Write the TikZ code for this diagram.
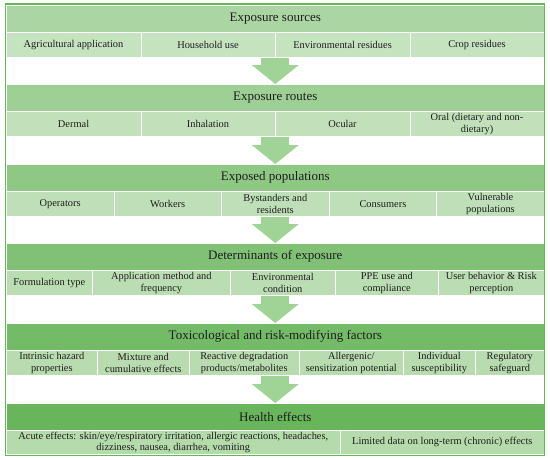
\documentclass[tikz,border=0pt]{standalone}
\usepackage{fontspec}
\setmainfont{Liberation Serif}
\usetikzlibrary{arrows.meta}
\definecolor{textgray}{RGB}{30,30,30}
\definecolor{bordergreen}{RGB}{96,186,84}
\definecolor{arrowgreen}{RGB}{160,211,150}
\definecolor{hdrA}{RGB}{171,214,163}
\definecolor{hdrB}{RGB}{158,207,149}
\definecolor{hdrC}{RGB}{143,200,133}
\definecolor{hdrD}{RGB}{129,193,118}
\definecolor{hdrE}{RGB}{116,187,104}
\definecolor{hdrF}{RGB}{104,181,92}
\definecolor{rowA}{RGB}{198,227,192}
\definecolor{rowB}{RGB}{194,225,187}
\definecolor{rowC}{RGB}{190,223,183}
\definecolor{rowD}{RGB}{187,221,179}
\definecolor{rowE}{RGB}{184,219,175}
\definecolor{rowF}{RGB}{181,218,171}
\begin{document}
\begin{tikzpicture}[x = 1pt, y = -1pt,
    every node/.style = {text = textgray, font = \fontsize{10.4}{11.5}\selectfont},
    band/.style = {anchor = north west, minimum width = 538pt, minimum height = 27pt,
                   inner sep = 0pt, draw = white, line width = .6pt,
                   font = \fontsize{13}{15}\selectfont},
    cell/.style = {anchor = north west, minimum width = #1, minimum height = 25pt,
                   inner xsep = 2pt, inner ysep = 0pt, align = center,
                   draw = white, line width = .6pt},
    flow/.style = {draw = arrowgreen, line width = 28pt,
                   -{Triangle[width = 47pt, length = 19pt, line width = 0pt]}}
  ]
  \useasboundingbox (0,0) rectangle (550,459);

  % exposure sources
  \node [band, fill = hdrA] (hsrc) at (6,5) {Exposure sources};
  \node [cell = 134.5pt, fill = rowA] (src1) at (6,32) {Agricultural application};
  \node [cell = 134.5pt, fill = rowA] (src2) at (140.5,32) {Household use};
  \node [cell = 134.5pt, fill = rowA] (src3) at (275,32) {Environmental residues};
  \node [cell = 134.5pt, fill = rowA] (src4) at (409.5,32) {Crop residues};

  % exposure routes
  \node [band, fill = hdrB] (hroute) at (6,84) {Exposure routes};
  \node [cell = 134.5pt, fill = rowB] (route1) at (6,111) {Dermal};
  \node [cell = 134.5pt, fill = rowB] (route2) at (140.5,111) {Inhalation};
  \node [cell = 134.5pt, fill = rowB] (route3) at (275,111) {Ocular};
  \node [cell = 134.5pt, fill = rowB] (route4) at (409.5,111) {Oral (dietary and non-\\dietary)};

  % exposed populations
  \node [band, fill = hdrC] (hpop) at (6,164) {Exposed populations};
  \node [cell = 107.6pt, fill = rowC] (pop1) at (6,191) {Operators};
  \node [cell = 107.6pt, fill = rowC] (pop2) at (113.6,191) {Workers};
  \node [cell = 107.6pt, fill = rowC] (pop3) at (221.2,191) {Bystanders and\\residents};
  \node [cell = 107.6pt, fill = rowC] (pop4) at (328.8,191) {Consumers};
  \node [cell = 107.6pt, fill = rowC] (pop5) at (436.4,191) {Vulnerable\\populations};

  % determinants
  \node [band, fill = hdrD] (hdet) at (6,243) {Determinants of exposure};
  \node [cell = 86pt, fill = rowD] (det1) at (6,270) {Formulation type};
  \node [cell = 138pt, fill = rowD] (det2) at (92,270) {Application method and\\frequency};
  \node [cell = 105pt, fill = rowD] (det3) at (230,270) {Environmental\\condition};
  \node [cell = 103pt, fill = rowD] (det4) at (335,270) {PPE use and\\compliance};
  \node [cell = 106pt, fill = rowD] (det5) at (438,270) {User behavior \& Risk\\perception};

  % modifying factors
  \node [band, fill = hdrE] (hfac) at (6,323) {Toxicological and risk-modifying factors};
  \node [cell = 91pt, fill = rowE] (fac1) at (6,350) {Intrinsic hazard\\properties};
  \node [cell = 92pt, fill = rowE] (fac2) at (97,350) {Mixture and\\cumulative effects};
  \node [cell = 110pt, fill = rowE] (fac3) at (189,350) {Reactive degradation\\products/metabolites};
  \node [cell = 104pt, fill = rowE] (fac4) at (299,350) {Allergenic/\\sensitization potential};
  \node [cell = 72pt, fill = rowE] (fac5) at (403,350) {Individual\\susceptibility};
  \node [cell = 69pt, fill = rowE] (fac6) at (475,350) {Regulatory\\safeguard};

  % health effects
  \node [band, fill = hdrF] (heff) at (6,403) {Health effects};
  \node [cell = 334pt, fill = rowF, minimum height = 24pt] (eff1) at (6,430)
    {Acute effects: skin/eye/respiratory irritation, allergic reactions, headaches,\\dizziness, nausea, diarrhea, vomiting};
  \node [cell = 204pt, fill = rowF, minimum height = 24pt] (eff2) at (340,430)
    {Limited data on long-term (chronic) effects};

  % block arrows
  \draw [flow] (hsrc |- src1.south) -- (hroute.north);
  \draw [flow] (hroute |- route1.south) -- (hpop.north);
  \draw [flow] (hpop |- pop1.south) -- (hdet.north);
  \draw [flow] (hdet |- det1.south) -- (hfac.north);
  \draw [flow] (hfac |- fac1.south) -- (heff.north);

  \draw [bordergreen, line width = 1.4pt] (5.3,4) rectangle (544.7,455.5);
\end{tikzpicture}
\end{document}
